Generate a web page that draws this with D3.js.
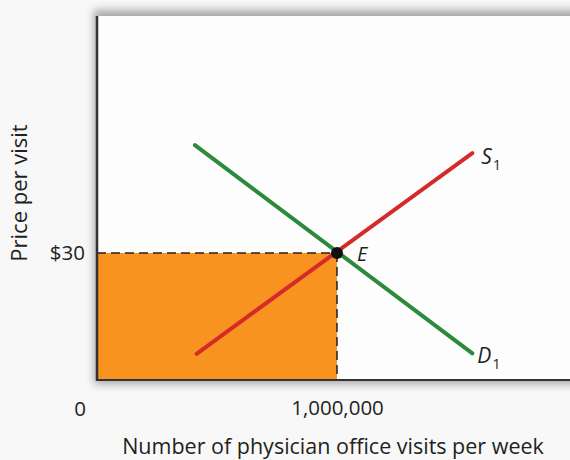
<!DOCTYPE html>
<html>
<head>
<meta charset="utf-8">
<script src="https://cdn.jsdelivr.net/npm/d3@7"></script>
<style>
  html, body { margin: 0; padding: 0; background: #f8f8f8; }
  svg { display: block; }
  text { font-family: "Open Sans", "Noto Sans", sans-serif; fill: #231f20; }
</style>
</head>
<body>
<svg id="chart" width="570" height="460"></svg>
<script>
// ---- data ----
const quantityTicks = [1000000];
const priceTicks = [30];
const originLabel = "0";
const demandPoints = [[408000, 55.5], [1564000, 6.3]];
const supplyPoints = [[415000, 6.2], [1564000, 53.6]];
const equilibrium = [1000000, 30];
const demandLabel = "D";
const supplyLabel = "S";
const equilibriumLabel = "E";
const xTitle = "Number of physician office visits per week";
const yTitle = "Price per visit";

// ---- layout ----
const svg = d3.select("#chart");
const x = d3.scaleLinear().domain([0, 2000000]).range([97, 577]);
const y = d3.scaleLinear().domain([0, 86]).range([380, 16]);

const defs = svg.append("defs");
const f = defs.append("filter").attr("id", "shadow")
  .attr("x", "-10%").attr("y", "-10%").attr("width", "120%").attr("height", "120%");
f.append("feGaussianBlur").attr("stdDeviation", 4);

// shadow + plot box
svg.append("rect")
  .attr("x", x(0) - 3).attr("y", y(86) - 6)
  .attr("width", 600).attr("height", y(0) - y(86) + 10)
  .attr("fill", "#8a8a8a").attr("opacity", 0.75)
  .attr("filter", "url(#shadow)");
svg.append("rect")
  .attr("x", x(0)).attr("y", y(86))
  .attr("width", 600).attr("height", y(0) - y(86))
  .attr("fill", "#fdfdfd");

// orange area (total spending)
svg.append("rect")
  .attr("x", x(0)).attr("y", y(equilibrium[1]))
  .attr("width", x(equilibrium[0]) - x(0))
  .attr("height", y(0) - y(equilibrium[1]))
  .attr("fill", "#f7931e");

// dashed guides
svg.append("line")
  .attr("x1", x(0)).attr("x2", x(equilibrium[0]))
  .attr("y1", y(equilibrium[1])).attr("y2", y(equilibrium[1]))
  .attr("stroke", "#231f20").attr("stroke-width", 1.5).attr("stroke-dasharray", "9,5");
svg.append("line")
  .attr("x1", x(equilibrium[0])).attr("x2", x(equilibrium[0]))
  .attr("y1", y(equilibrium[1])).attr("y2", y(0))
  .attr("stroke", "#231f20").attr("stroke-width", 1.5).attr("stroke-dasharray", "9,5");

// axes lines
svg.append("line").attr("x1", x(0)).attr("x2", x(0)).attr("y1", y(86)).attr("y2", y(0) + 1)
  .attr("stroke", "#333").attr("stroke-width", 2.5);
svg.append("line").attr("x1", x(0) - 1).attr("x2", 570).attr("y1", y(0)).attr("y2", y(0))
  .attr("stroke", "#333").attr("stroke-width", 2);

// curves
const line = d3.line().x(d => x(d[0])).y(d => y(d[1]));
svg.append("path").datum(demandPoints).attr("d", line)
  .attr("fill", "none").attr("stroke", "#2b8a3b").attr("stroke-width", 4).attr("stroke-linecap", "round");
svg.append("path").datum(supplyPoints).attr("d", line)
  .attr("fill", "none").attr("stroke", "#d62a2a").attr("stroke-width", 4).attr("stroke-linecap", "round");

// equilibrium
svg.append("circle").attr("cx", x(equilibrium[0])).attr("cy", y(equilibrium[1])).attr("r", 6).attr("fill", "#111");

// curve labels
function curveLabel(txt, px, py) {
  const t = svg.append("text").attr("x", px).attr("y", py)
    .attr("font-size", 21).attr("font-style", "italic");
  t.append("tspan").text(txt);
  t.append("tspan").text("1").attr("font-size", 14).attr("font-style", "normal").attr("dy", 6).attr("dx", 1);
}
const sEnd = supplyPoints[supplyPoints.length - 1];
const dEnd = demandPoints[demandPoints.length - 1];
curveLabel(supplyLabel, x(sEnd[0]) + 9, y(sEnd[1]) + 11);
curveLabel(demandLabel, x(dEnd[0]) + 5, y(dEnd[1]) + 10);
svg.append("text").attr("x", x(equilibrium[0]) + 20).attr("y", y(equilibrium[1]) + 8)
  .attr("font-size", 20).attr("font-style", "italic").text(equilibriumLabel);

// axes ticks
const xAxis = svg.append("g").attr("transform", `translate(0,${y(0)})`)
  .call(d3.axisBottom(x).tickValues(quantityTicks).tickSize(0).tickPadding(20).tickFormat(d3.format(",")));
xAxis.select(".domain").remove();
xAxis.selectAll("text").attr("font-size", 20.5).attr("font-family", "Open Sans").attr("fill", "#231f20");

const yAxis = svg.append("g").attr("transform", `translate(${x(0)},0)`)
  .call(d3.axisLeft(y).tickValues(priceTicks).tickSize(0).tickPadding(12).tickFormat(d => "$" + d));
yAxis.select(".domain").remove();
yAxis.selectAll("text").attr("font-size", 20.5).attr("font-family", "Open Sans").attr("fill", "#231f20");

svg.append("text").attr("x", x(0) - 17).attr("y", y(0) + 36)
  .attr("text-anchor", "middle").attr("font-size", 20.5).text(originLabel);

// titles
svg.append("text").attr("x", 333).attr("y", 454)
  .attr("text-anchor", "middle").attr("font-size", 21.5).text(xTitle);
svg.append("text").attr("transform", "translate(27,193) rotate(-90)")
  .attr("text-anchor", "middle").attr("font-size", 22).text(yTitle);
</script>
</body>
</html>
